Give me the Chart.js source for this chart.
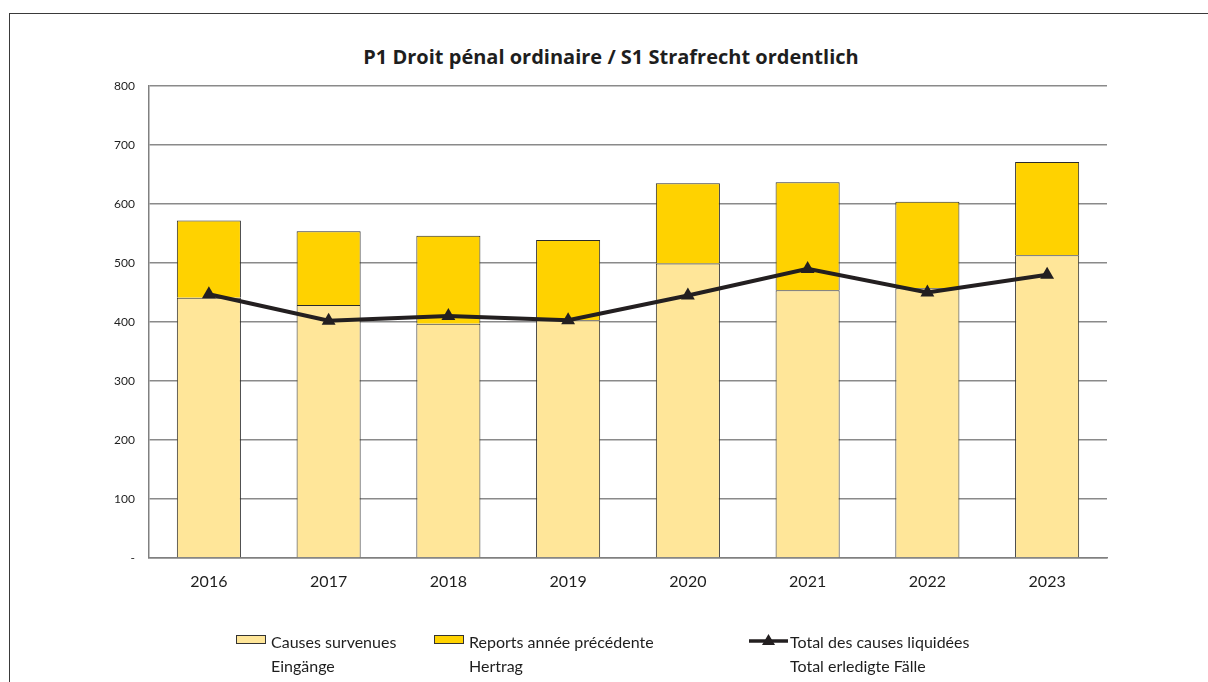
<!DOCTYPE html>
<html>
<head>
<meta charset="utf-8">
<script src="https://cdn.jsdelivr.net/npm/chart.js@4.4.1/dist/chart.umd.min.js"></script>
<style>
  body { margin: 0; background: #fff; font-family: Lato, "Open Sans", sans-serif; }
  #wrap { position: relative; width: 1208px; height: 682px; overflow: hidden; }
  #frame { position: absolute; left: 9px; top: 13px; width: 1300px; height: 800px;
           border-left: 1.5px solid #3a3a3a; border-top: 1.5px solid #3a3a3a; }
  #title { position: absolute; left: 9px; width: 1204px; top: 43px; text-align: center;
           font-family: "Open Sans", sans-serif; font-weight: bold; font-size: 20px; color: #1e1e1e; }
  canvas { position: absolute; left: 0; top: 0; }
  .leg { position: absolute; top: 630px; font-size: 16px; color: #1e1e1e; line-height: 24px; }
  .sw { position: absolute; top: 5px; width: 30px; height: 9px; border: 1px solid #333; box-sizing: border-box; }
</style>
</head>
<body>
<div id="wrap">
  <div id="frame"></div>
  <div id="title">P1 Droit pénal ordinaire / S1 Strafrecht ordentlich</div>
  <canvas id="c" width="1208" height="682"></canvas>
  <div class="leg" style="left:236px;">
    <div class="sw" style="left:0; background:#FFE699;"></div>
    <div style="margin-left:35px;">Causes survenues<br>Eingänge</div>
  </div>
  <div class="leg" style="left:434px;">
    <div class="sw" style="left:0; background:#FFD200;"></div>
    <div style="margin-left:35px;">Reports année précédente<br>Hertrag</div>
  </div>
  <div class="leg" style="left:749px;">
    <svg style="position:absolute; left:0; top:2px;" width="40" height="16">
      <line x1="0" y1="9" x2="39" y2="9" stroke="#231F20" stroke-width="3.5"/>
      <polygon points="19.5,2 26,13 13,13" fill="#231F20"/>
    </svg>
    <div style="margin-left:41px;">Total des causes liquidées<br>Total erledigte Fälle</div>
  </div>
</div>
<script>
const years = ['2016', '2017', '2018', '2019', '2020', '2021', '2022', '2023'];
const eingaenge = [441, 429, 397, 403, 499, 454, 457, 513];
const hertrag = [131, 125, 149, 136, 136, 183, 147, 158];
const erledigt = [447, 402, 410, 403, 445, 490, 450, 480];
const yTicks = [0, 100, 200, 300, 400, 500, 600, 700, 800];

const ctx = document.getElementById('c').getContext('2d');
new Chart(ctx, {
    type: 'bar',
    data: {
        labels: years,
        datasets: [
            {
                type: 'line',
                label: 'Total des causes liquidées',
                data: erledigt,
                stack: 'line',
                borderColor: '#231F20',
                backgroundColor: '#231F20',
                borderWidth: 4,
                pointStyle: 'triangle',
                pointRadius: 8,
                pointBorderWidth: 0,
                tension: 0,
                order: 0
            },
            {
                label: 'Causes survenues',
                data: eingaenge,
                stack: 'bars',
                backgroundColor: '#FFE699',
                borderColor: '#2b2b2b',
                borderWidth: 1,
                barPercentage: 0.535,
                categoryPercentage: 1,
                order: 1
            },
            {
                label: 'Reports année précédente',
                data: hertrag,
                stack: 'bars',
                backgroundColor: '#FFD200',
                borderColor: '#2b2b2b',
                borderWidth: 1,
                barPercentage: 0.535,
                categoryPercentage: 1,
                order: 1
            }
        ]
    },
    options: {
        responsive: false,
        animation: false,
        layout: { padding: { left: 0, right: 101, top: 86, bottom: 84 } },
        plugins: {
            legend: { display: false },
            tooltip: { enabled: false }
        },
        scales: {
            x: {
                stacked: true,
                grid: { display: false, drawTicks: false },
                border: { color: '#808080', width: 1.5 },
                ticks: { padding: 14, color: '#1e1e1e', font: { family: 'Lato', size: 16 } },
                afterFit: axis => { axis.height = 40; }
            },
            y: {
                stacked: true,
                min: 0,
                max: 800,
                afterBuildTicks: axis => { axis.ticks = yTicks.map(v => ({ value: v })); },
                grid: { color: '#8a8a8a', lineWidth: 1.5, drawTicks: false },
                border: { color: '#808080', width: 1.5 },
                ticks: {
                    padding: 14,
                    color: '#1e1e1e',
                    font: { family: 'Lato', size: 12 },
                    callback: v => v === 0 ? '-' : v
                },
                afterFit: axis => { axis.width = 149; }
            }
        }
    }
});
</script>
</body>
</html>
